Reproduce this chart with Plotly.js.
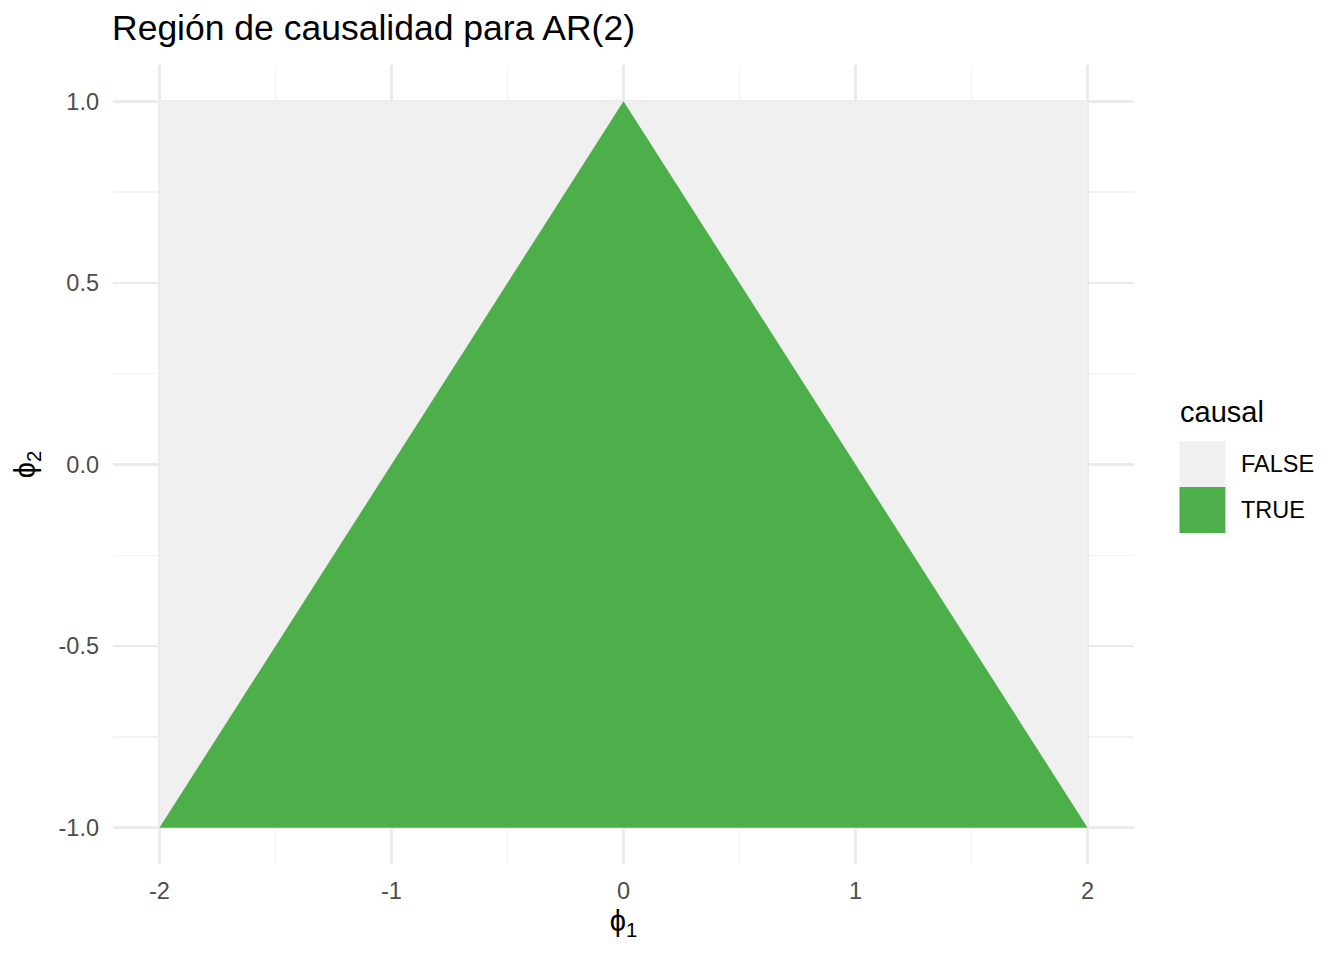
<!DOCTYPE html>
<html>
<head>
<meta charset="utf-8">
<script src="https://cdn.plot.ly/plotly-3.0.1.min.js"></script>
<style>html,body{margin:0;padding:0;background:#fff;}#chart{width:1344px;height:960px;}</style>
</head>
<body>
<div id="chart"></div>
<script>
// Data
const categories = ["FALSE", "TRUE"];
const categoryColors = ["#F0F0F0", "#4DAF4A"];
// FALSE region: whole parameter grid (rectangle corners)
const falsePhi1 = [-2, 2, 2, -2, -2];
const falsePhi2 = [-1, -1, 1, 1, -1];
// TRUE region: causal triangle corners
const truePhi1 = [-2, 0, 2, -2];
const truePhi2 = [-1, 1, -1, -1];
const xTickVals = [-2, -1, 0, 1, 2];
const xTickText = ["-2", "-1", "0", "1", "2"];
const yTickVals = [-1, -0.5, 0, 0.5, 1];
const yTickText = ["-1.0", "-0.5", "0.0", "0.5", "1.0"];
const titleText = "Región de causalidad para AR(2)";
const xTitle = "ϕ<sub>1</sub>";
const yTitle = "ϕ<sub>2</sub>";
const legendTitle = "causal";

const FONT = "Liberation Sans, Arial, sans-serif";
const W = 1344, H = 960;
const plotL = 112.5, plotR = 1134.5, plotT = 64.65, plotB = 864.35;
const px = p => (p - plotL) / (plotR - plotL);
const py = q => (plotB - q) / (plotB - plotT);

const traces = [
  {x: falsePhi1, y: falsePhi2, type: "scatter", mode: "none", fill: "toself",
   fillcolor: categoryColors[0], name: categories[0], hoverinfo: "skip", showlegend: false},
  {x: truePhi1, y: truePhi2, type: "scatter", mode: "none", fill: "toself",
   fillcolor: categoryColors[1], name: categories[1], hoverinfo: "skip", showlegend: false}
];

const shapes = [];
const annotations = [];
annotations.push({xref: "paper", yref: "paper", x: px(1179), y: py(412), xanchor: "left", yanchor: "middle",
  text: legendTitle, showarrow: false, font: {family: FONT, size: 29, color: "#000"}});
categories.forEach((c, i) => {
  const top = 441 + i * 46;
  shapes.push({type: "rect", xref: "paper", yref: "paper", x0: px(1180), x1: px(1226),
    y0: py(top + 46), y1: py(top), fillcolor: categoryColors[i], line: {width: 0}, layer: "above"});
  annotations.push({xref: "paper", yref: "paper", x: px(1240), y: py(top + 23), xanchor: "left", yanchor: "middle",
    text: c, showarrow: false, font: {family: FONT, size: 23.5, color: "#000"}});
});

const layout = {
  width: W, height: H,
  margin: {l: plotL, r: W - plotR, t: plotT, b: H - plotB, pad: 0},
  paper_bgcolor: "#ffffff", plot_bgcolor: "#ffffff",
  showlegend: false,
  title: {text: titleText, x: 112 / W, xref: "container", xanchor: "left",
    y: 1 - 28 / H, yref: "container", yanchor: "middle",
    font: {family: FONT, size: 35.5, color: "#000"}},
  xaxis: {range: [-2.2, 2.2], tickvals: xTickVals, ticktext: xTickText, ticks: "",
    showgrid: true, gridcolor: "#EBEBEB", gridwidth: 2.6, zeroline: false, showline: false,
    tickfont: {family: FONT, size: 23.5, color: "#4D4D4D"}, ticklabelstandoff: 10,
    minor: {tickvals: [-1.5, -0.5, 0.5, 1.5], showgrid: true, gridcolor: "#F2F2F2", gridwidth: 1.4, ticks: ""},
    title: {text: xTitle, font: {family: FONT, size: 29, color: "#000"}, standoff: 8}},
  yaxis: {range: [-1.1, 1.1], tickvals: yTickVals, ticktext: yTickText, ticks: "",
    showgrid: true, gridcolor: "#EBEBEB", gridwidth: 2.6, zeroline: false, showline: false,
    tickfont: {family: FONT, size: 23.5, color: "#4D4D4D"}, ticklabelstandoff: 13,
    minor: {tickvals: [-0.75, -0.25, 0.25, 0.75], showgrid: true, gridcolor: "#F2F2F2", gridwidth: 1.4, ticks: ""},
    title: {text: yTitle, font: {family: FONT, size: 29, color: "#000"}, standoff: 14}},
  shapes: shapes,
  annotations: annotations
};

Plotly.newPlot("chart", traces, layout, {staticPlot: true, displayModeBar: false});
</script>
</body>
</html>
